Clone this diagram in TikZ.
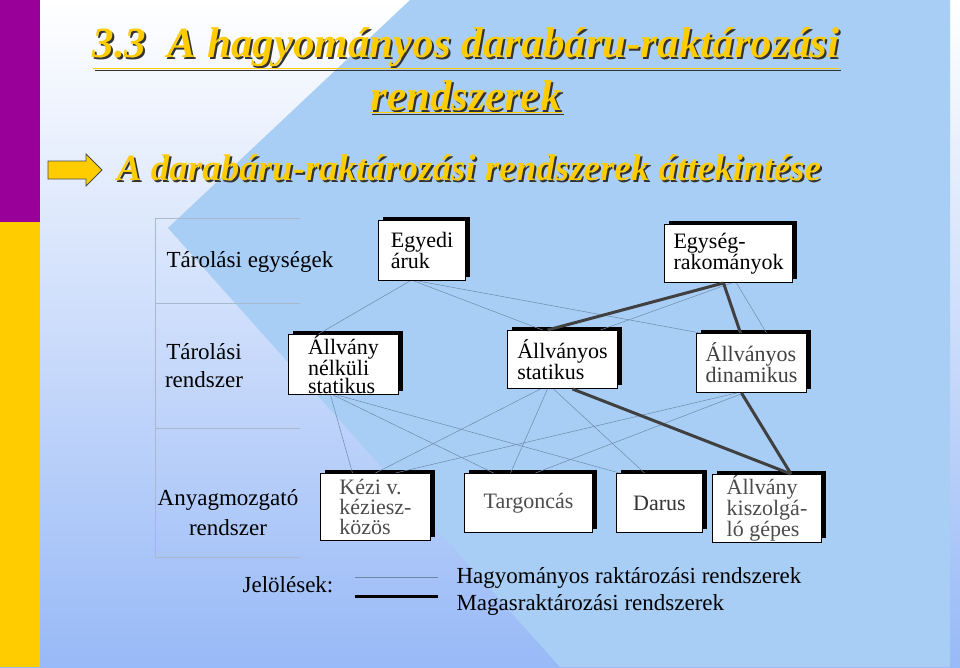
\documentclass[tikz,border=0pt]{standalone}
\usepackage{fontspec}
\setmainfont{Liberation Serif}
\definecolor{gold}{HTML}{FFCC00}
\definecolor{purp}{HTML}{990099}
\definecolor{skyb}{HTML}{A9CEF6}
\definecolor{thin}{HTML}{6C8AA8}
\definecolor{thick}{HTML}{404040}
\tikzset{
 bx/.style={draw=black,fill=white,line width=1pt,minimum width=#1,minimum height=58pt,inner sep=2pt,font=\fontsize{22}{20}\selectfont,align=left,anchor=north west,
   preaction={fill=black,transform canvas={xshift=4pt,yshift=4pt}}},
 thinl/.style={draw=thin,line width=0.5pt},
 thickl/.style={draw=thick,line width=3pt},
 lbl/.style={font=\fontsize{23}{25}\selectfont,align=center},
 sep/.style={draw=thin!60,line width=0.4pt},
 ttl/.style={text=gold,font=\fontsize{43}{46}\selectfont\bfseries\itshape}
}
\newcommand{\shd}[3]{\node[ttl,text=black!80,xshift=2pt,yshift=-2pt] at (#1) {#3};\node[ttl] at (#1) (#2) {#3};}
\begin{document}
\begin{tikzpicture}[x=1pt,y=-1pt]
\useasboundingbox (0,0) rectangle (960,667);
\shade[top color=white,bottom color=skyb!90!blue] (0,0) rectangle (960,667);
\fill[skyb] (410,0) -- (950,0) -- (950,667) -- (560,667) -- (168,228) -- cycle;
\fill[purp] (0,0) rectangle (40,222);
\fill[gold] (0,222) rectangle (40,667);
% titles
\shd{466,48}{t1}{\underline{3.3\ \ A hagyományos darabáru-raktározási}}
\shd{466,97}{t2}{\underline{rendszerek}}
\coordinate (arr) at (75,170);
\draw[black!70,fill=gold,line width=0.8pt] (48,161) -- (86,161) -- (86,154) -- (102,170) -- (86,186) -- (86,179) -- (48,179) -- cycle;
\node[ttl,font=\fontsize{37}{40}\selectfont\bfseries\itshape,text=black!80] at (471,170) {A darabáru-raktározási rendszerek áttekintése};
\node[ttl,font=\fontsize{37}{40}\selectfont\bfseries\itshape] (sub) at (469,168) {A darabáru-raktározási rendszerek áttekintése};
% row separators
\draw[sep] (155,218) -- (300,218) (155,303) -- (300,303) (155,428) -- (300,428) (155,557) -- (300,557) (155,218) -- (155,557);
\node[lbl] (r1) at (250,262) {Tárolási egységek};
\node[lbl,font=\fontsize{23}{28}\selectfont] (r2) at (204,366) {Tárolási\\rendszer};
\node[lbl,font=\fontsize{23}{30}\selectfont] (r3) at (228,513) {Anyagmozgató\\ rendszer};
% boxes
\node[bx=87pt,minimum height=60pt] (eg) at (378,220) {Egyedi\\ áruk};
\node[bx=128pt,minimum height=58pt] (es) at (664,224) {Egység-\\rakományok};
\node[bx=110pt,minimum height=58pt,inner sep=1pt,font=\fontsize{22}{18}\selectfont] (an) at (288,334) {Állvány\\nélküli\\statikus};
\node[bx=110pt,minimum height=58pt] (as) at (507,330) {Állványos\\statikus};
\node[bx=110pt,minimum height=59pt,text=black!75] (ad) at (696,333) {Állványos\\dinamikus};
\node[bx=110pt,minimum height=67pt,inner sep=1pt,text=black!70,font=\fontsize{22}{20}\selectfont] (ke) at (320,473) {Kézi v.\\kéziesz-\\közös};
\node[bx=128pt,minimum height=59pt,text=black!70] (ta) at (464,473) {Targoncás};
\node[bx=86pt,minimum height=59pt,text=black!80] (da) at (616,473) {Darus};
\node[bx=109pt,minimum height=58pt,inner sep=1pt,text=black!70,font=\fontsize{22}{18}\selectfont] (ak) at (712,474) {Állvány\\kiszolgá-\\ló gépes};
% thin connectors
\draw[thinl] ([xshift=-12pt]eg.south) -- ([xshift=-25pt]an.north);
\draw[thinl] ([xshift=-8pt]eg.south) -- ([xshift=-20pt]as.north);
\draw[thinl] ([xshift=-4pt]eg.south) -- ([xshift=-51pt]ad.north);
\draw[thinl] ([xshift=3pt]es.south) -- ([xshift=38pt]as.north);
\draw[thinl] ([xshift=8pt]es.south) -- ([xshift=15pt]ad.north);
\draw[thinl] ([xshift=-13pt]an.south) -- ([xshift=-23pt]ke.north);
\draw[thinl] ([xshift=-10pt]an.south) -- ([xshift=-35pt]ta.north);
\draw[thinl] ([xshift=-6pt]an.south) -- ([xshift=-40pt]da.north);
\draw[thinl] ([xshift=-22pt]as.south) -- (ke.north);
\draw[thinl] ([xshift=-15pt]as.south) -- ([xshift=-18pt]ta.north);
\draw[thinl] ([xshift=-9pt]as.south) -- ([xshift=-15pt]da.north);
\draw[thinl] ([xshift=-15pt]ad.south) -- ([xshift=20pt]ke.north);
\draw[thinl] ([xshift=-8pt]ad.south) -- ([xshift=7pt]ta.north);
% thick connectors
\draw[thickl] ([xshift=-5pt]es.south) -- ([xshift=-15pt]as.north);
\draw[thickl] ([xshift=-5pt]es.south) -- ([xshift=-11pt]ad.north);
\draw[thickl] ([xshift=10pt]as.south) -- ([xshift=24pt]ak.north);
\draw[thickl] ([xshift=-10pt]ad.south) -- ([xshift=24pt]ak.north);
% legend
\node[lbl] (jl) at (288,585) {Jelölések:};
\coordinate (l1a) at (355,577); \coordinate (l1b) at (438,577);
\coordinate (l2a) at (355,596); \coordinate (l2b) at (438,596);
\draw[thinl] (l1a) -- (l1b);
\draw[line width=3pt] (l2a) -- (l2b);
\node[lbl,align=left,anchor=west,font=\fontsize{23}{27}\selectfont] (lt) at (453,591) {Hagyományos raktározási rendszerek\\Magasraktározási rendszerek};
\end{tikzpicture}
\end{document}
